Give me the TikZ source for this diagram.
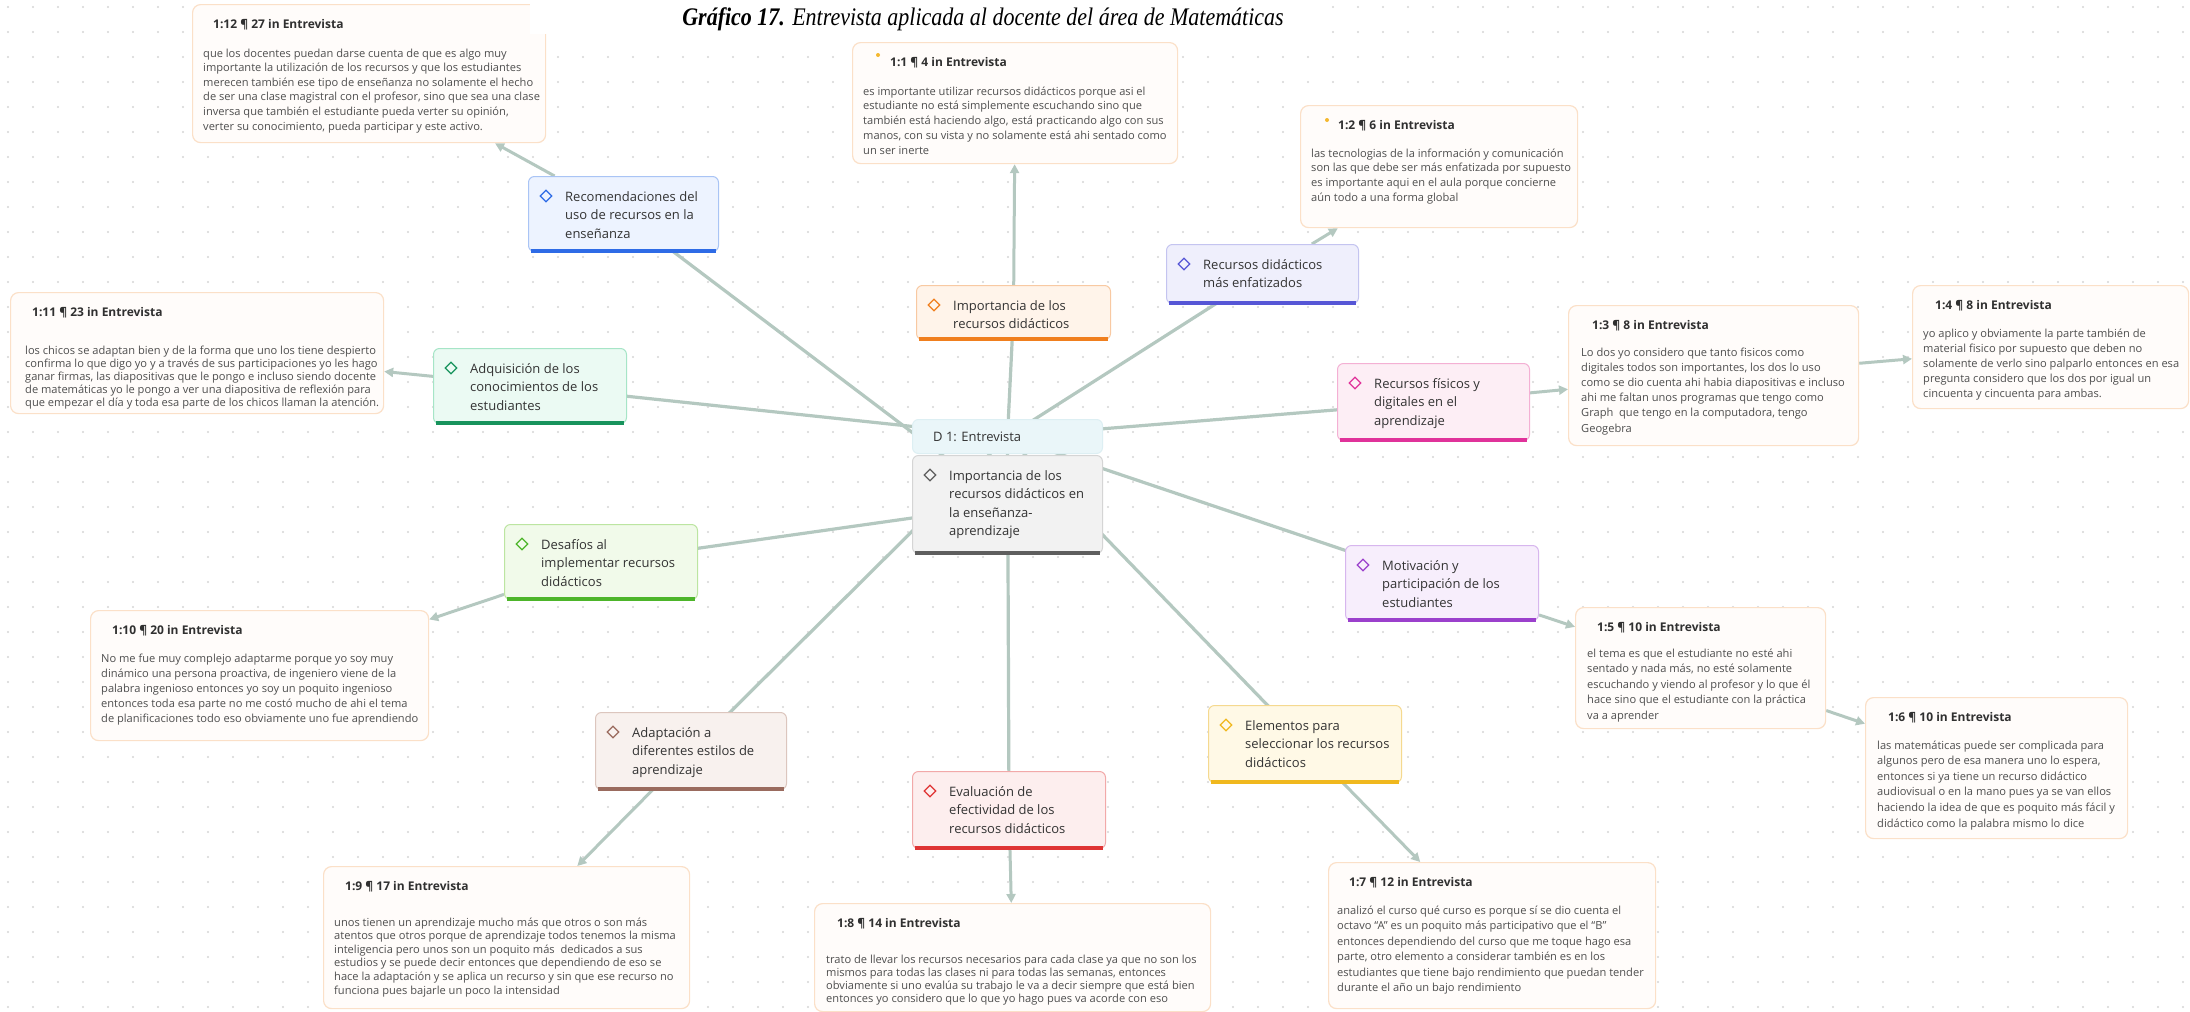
\documentclass[tikz,border=0pt]{standalone}
\usepackage{fontspec}
\setmainfont{Open Sans}
\newfontfamily\titlefont{Liberation Serif}
\usetikzlibrary{shapes.geometric,arrows.meta}
\pgfdeclarelayer{bg}
\pgfsetlayers{bg,main}

\definecolor{qfill}{HTML}{FFFCFA}
\definecolor{qline}{HTML}{FBE0C8}
\definecolor{headc}{HTML}{303030}
\definecolor{bodyc}{HTML}{4E4E4E}
\definecolor{codetc}{HTML}{333333}
\definecolor{linkc}{HTML}{B4C8C0}
\definecolor{gridc}{HTML}{D6D6D6}
\definecolor{dotor}{HTML}{F5B82E}

\definecolor{blueFill}{HTML}{EDF3FF}\definecolor{blueLine}{HTML}{A9C4F5}\definecolor{blueBar}{HTML}{2E6BE6}
\definecolor{orangeFill}{HTML}{FFF4EA}\definecolor{orangeLine}{HTML}{F8C9A2}\definecolor{orangeBar}{HTML}{F07F1E}
\definecolor{indigoFill}{HTML}{EFEFFC}\definecolor{indigoLine}{HTML}{C4C4F0}\definecolor{indigoBar}{HTML}{5656D6}
\definecolor{mintFill}{HTML}{EBFAF3}\definecolor{mintLine}{HTML}{A6E5C7}\definecolor{mintBar}{HTML}{17935C}
\definecolor{grayFill}{HTML}{F2F2F2}\definecolor{grayLine}{HTML}{D5D5D5}\definecolor{grayBar}{HTML}{5E5E5E}
\definecolor{pinkFill}{HTML}{FDEEF5}\definecolor{pinkLine}{HTML}{F4B0D4}\definecolor{pinkBar}{HTML}{E0329A}
\definecolor{greenFill}{HTML}{F1FAEA}\definecolor{greenLine}{HTML}{BCE5A1}\definecolor{greenBar}{HTML}{4DB52A}
\definecolor{purpleFill}{HTML}{F7EEFC}\definecolor{purpleLine}{HTML}{D7B6EE}\definecolor{purpleBar}{HTML}{9B40CC}
\definecolor{brownFill}{HTML}{F8F1EE}\definecolor{brownLine}{HTML}{DCC6BE}\definecolor{brownBar}{HTML}{9A6B5E}
\definecolor{yellowFill}{HTML}{FFF9E6}\definecolor{yellowLine}{HTML}{F5D98F}\definecolor{yellowBar}{HTML}{F0B81E}
\definecolor{redFill}{HTML}{FDEEEE}\definecolor{redLine}{HTML}{F2A9A9}\definecolor{redBar}{HTML}{DF3434}
\definecolor{docFill}{HTML}{EAF6F9}\definecolor{docLine}{HTML}{DDEFF3}

\tikzset{
  qbox/.style={draw=qline, fill=qfill, line width=1.2pt, rounded corners=8pt, inner sep=0pt, anchor=north west},
  cbox/.style={rounded corners=6pt, line width=1pt, inner sep=0pt, anchor=north west},
  qhead/.style={anchor=base west, inner sep=0pt, font=\fontsize{12}{14}\selectfont\bfseries, text=headc},
  qbody/.style={anchor=base west, inner sep=0pt, font=\fontsize{11.1}{13}\selectfont, text=bodyc},
  ctext/.style={anchor=base west, inner sep=0pt, font=\fontsize{13}{15}\selectfont, text=codetc},
  cdia/.style={diamond, draw, line width=1.3pt, minimum width=12pt, minimum height=12pt, inner sep=0pt},
  link/.style={draw=linkc, line width=3.2pt},
  qlink/.style={draw=linkc, line width=3pt, -{Triangle[length=9pt,width=9pt]}},
}

\newcommand\txtlines[6]{%
  \foreach \qline [count=\qi] in {#6}{\node[#2] (#1-\qi) at ({#3},{#4+(\qi-1)*#5}) {\qline};}}

\newcommand\codenode[7]{%
  \node[cbox, fill=#6Fill, draw=#6Line, minimum width={#4-#2}, minimum height={#5-#3}] (#1) at (#2,#3) {};
  \draw[#6Bar, line width=3.5pt] ([xshift=3pt,yshift=1.2pt]#1.south west) -- ([xshift=-3pt,yshift=1.2pt]#1.south east);
  \node[cdia, draw=#6Bar] (#1-d) at ({#2+18},{#3+20}) {};
  \txtlines{#1-t}{ctext}{#2+37}{#3+25}{18.5}{#7}}

\newcommand\quotenode[7]{%
  \node[qbox, minimum width={#4-#2}, minimum height={#5-#3}] (#1) at (#2,#3) {};
  \node[qhead] (#1-h) at ({#2+#7},{#3+24}) {#6};}

\begin{document}
\begin{tikzpicture}[x=1pt,y=-1pt]
\useasboundingbox (0,0) rectangle (2190,1012);
\begin{pgfonlayer}{bg}
  \fill[white] (0,0) rectangle (2190,1012);
  \foreach \yy in {7,32,...,1007}
    \draw[gridc, line width=2.2pt, line cap=round, dash pattern=on 0pt off 25pt] (8,\yy) -- (2190,\yy);
\end{pgfonlayer}

% ---------- quotations ----------
\quotenode{q12}{192}{4}{545}{142}{1:12 ¶ 27 in Entrevista}{21}
\txtlines{q12-b}{qbody}{203}{57}{14.6}{{que los docentes puedan darse cuenta de que es algo muy},{importante la utilización de los recursos y que los estudiantes},{merecen también ese tipo de enseñanza no solamente el hecho},{de ser una clase magistral con el profesor, sino que sea una clase},{inversa que también el estudiante pueda verter su opinión,},{verter su conocimiento, pueda participar y este activo.}}

\quotenode{q1}{852}{42}{1177}{163}{1:1 ¶ 4 in Entrevista}{38}
\node[circle, fill=dotor, inner sep=0pt, minimum size=4pt] (q1-dot) at (878,55) {};
\txtlines{q1-b}{qbody}{863}{95}{14.75}{{es importante utilizar recursos didácticos porque asi el},{estudiante no está simplemente escuchando sino que},{también está haciendo algo, está practicando algo con sus},{manos, con su vista y no solamente está ahi sentado como},{un ser inerte}}

\quotenode{q2}{1300}{105}{1577}{227}{1:2 ¶ 6 in Entrevista}{38}
\node[circle, fill=dotor, inner sep=0pt, minimum size=4pt] (q2-dot) at (1327,120) {};
\txtlines{q2-b}{qbody}{1311}{157}{14.7}{{las tecnologias de la información y comunicación},{son las que debe ser más enfatizada por supuesto},{es importante aqui en el aula porque concierne},{aún todo a una forma global}}

\quotenode{q11}{10}{292}{383}{413}{1:11 ¶ 23 in Entrevista}{22}
\txtlines{q11-b}{qbody}{25}{354}{13.2}{{los chicos se adaptan bien y de la forma que uno los tiene despierto},{confirma lo que digo yo y a través de sus participaciones yo les hago},{ganar firmas, las diapositivas que le pongo e incluso siendo docente},{de matemáticas yo le pongo a ver una diapositiva de reflexión para},{que empezar el día y toda esa parte de los chicos llaman la atención.}}

\quotenode{q3}{1568}{305}{1858}{445}{1:3 ¶ 8 in Entrevista}{24}
\txtlines{q3-b}{qbody}{1581}{356}{15.2}{{Lo dos yo considero que tanto fisicos como},{digitales todos son importantes, los dos lo uso},{como se dio cuenta ahi habia diapositivas e incluso},{ahi me faltan unos programas que tengo como},{Graph\ \ que tengo en la computadora, tengo},{Geogebra}}

\quotenode{q4}{1912}{285}{2188}{408}{1:4 ¶ 8 in Entrevista}{23}
\txtlines{q4-b}{qbody}{1923}{337}{15.2}{{yo aplico y obviamente la parte también de},{material fisico por supuesto que deben no},{solamente de verlo sino palparlo entonces en esa},{pregunta considero que los dos por igual un},{cincuenta y cincuenta para ambas.}}

\quotenode{q10}{90}{610}{428}{740}{1:10 ¶ 20 in Entrevista}{22}
\txtlines{q10-b}{qbody}{101}{662}{15}{{No me fue muy complejo adaptarme porque yo soy muy},{dinámico una persona proactiva, de ingeniero viene de la},{palabra ingenioso entonces yo soy un poquito ingenioso},{entonces toda esa parte no me costó mucho de ahi el tema},{de planificaciones todo eso obviamente uno fue aprendiendo}}

\quotenode{q5}{1575}{607}{1825}{728}{1:5 ¶ 10 in Entrevista}{22}
\txtlines{q5-b}{qbody}{1587}{657}{15.5}{{el tema es que el estudiante no esté ahi},{sentado y nada más, no esté solamente},{escuchando y viendo al profesor y lo que él},{hace sino que el estudiante con la práctica},{va a aprender}}

\quotenode{q6}{1865}{697}{2127}{838}{1:6 ¶ 10 in Entrevista}{23}
\txtlines{q6-b}{qbody}{1877}{749}{15.6}{{las matemáticas puede ser complicada para},{algunos pero de esa manera uno lo espera,},{entonces si ya tiene un recurso didáctico},{audiovisual o en la mano pues ya se van ellos},{haciendo la idea de que es poquito más fácil y},{didáctico como la palabra mismo lo dice}}

\quotenode{q9}{323}{866}{689}{1008}{1:9 ¶ 17 in Entrevista}{22}
\txtlines{q9-b}{qbody}{334}{926}{13.6}{{unos tienen un aprendizaje mucho más que otros o son más},{atentos que otros porque de aprendizaje todos tenemos la misma},{inteligencia pero unos son un poquito más\ \ dedicados a sus},{estudios y se puede decir entonces que dependiendo de eso se},{hace la adaptación y se aplica un recurso y sin que ese recurso no},{funciona pues bajarle un poco la intensidad}}

\quotenode{q8}{814}{903}{1210}{1011}{1:8 ¶ 14 in Entrevista}{23}
\txtlines{q8-b}{qbody}{826}{963}{13}{{trato de llevar los recursos necesarios para cada clase ya que no son los},{mismos para todas las clases ni para todas las semanas, entonces},{obviamente si uno evalúa su trabajo le va a decir siempre que está bien},{entonces yo considero que lo que yo hago pues va acorde con eso}}

\quotenode{q7}{1328}{862}{1655}{1008}{1:7 ¶ 12 in Entrevista}{21}
\txtlines{q7-b}{qbody}{1337}{914}{15.5}{{analizó el curso qué curso es porque sí se dio cuenta el},{octavo “A” es un poquito más participativo que el “B”},{entonces dependiendo del curso que me toque hago esa},{parte, otro elemento a considerar también es en los},{estudiantes que tiene bajo rendimiento que puedan tender},{durante el año un bajo rendimiento}}

% ---------- codes ----------
\codenode{A}{528}{176}{718}{251}{blue}{{Recomendaciones del},{uso de recursos en la},{enseñanza}}
\codenode{B}{916}{285}{1110}{339}{orange}{{Importancia de los},{recursos didácticos}}
\codenode{C}{1166}{244}{1358}{303}{indigo}{{Recursos didácticos},{más enfatizados}}
\codenode{D}{433}{348}{626}{423}{mint}{{Adquisición de los},{conocimientos de los},{estudiantes}}
\codenode{F}{912}{455}{1102}{553}{gray}{{Importancia de los},{recursos didácticos en},{la enseñanza-},{aprendizaje}}
\node[cbox, fill=docFill, draw=docLine, minimum width=190pt, minimum height=34pt] (E) at (912,419) {};
\node[ctext] (E-t) at (933,441) {D 1: Entrevista};
\codenode{G}{1337}{363}{1529}{440}{pink}{{Recursos físicos y},{digitales en el},{aprendizaje}}
\codenode{H}{504}{524}{697}{599}{green}{{Desafíos al},{implementar recursos},{didácticos}}
\codenode{I}{1345}{545}{1538}{620}{purple}{{Motivación y},{participación de los},{estudiantes}}
\codenode{J}{595}{712}{786}{789}{brown}{{Adaptación a},{diferentes estilos de},{aprendizaje}}
\codenode{K}{1208}{705}{1401}{782}{yellow}{{Elementos para},{seleccionar los recursos},{didácticos}}
\codenode{L}{912}{771}{1105}{848}{red}{{Evaluación de},{efectividad de los},{recursos didácticos}}

% ---------- connectors ----------
\begin{pgfonlayer}{bg}
  \draw[link] (F.center) -- (A.center);
  \draw[link] (F.center) -- (H.center);
  \foreach \cn in {B,C,D,G,I,J,K,L}
    \draw[link] (E.center) -- (\cn.center);
  \draw[qlink] (A) -- (q12);
  \draw[qlink] (B) -- (q1);
  \draw[qlink] (C) -- (q2);
  \draw[qlink] (D) -- (q11);
  \draw[qlink] (G) -- (q3);
  \draw[qlink] (q3) -- (q4);
  \draw[qlink] (H) -- (q10);
  \draw[qlink] (I) -- (q5);
  \draw[qlink] (q5) -- (q6);
  \draw[qlink] (J) -- (q9);
  \draw[qlink] (K) -- (q7);
  \draw[qlink] (L) -- (q8);
\end{pgfonlayer}

% ---------- title ----------
\fill[white] (530,0) rectangle (1330,34);
\node[anchor=base, inner sep=0pt, font=\titlefont\fontsize{22}{24}\selectfont\itshape] (title) at (983,25)
  {\scalebox{1}[1.15]{\textbf{Gráfico 17.} Entrevista aplicada al docente del área de Matemáticas}};
\end{tikzpicture}
\end{document}
